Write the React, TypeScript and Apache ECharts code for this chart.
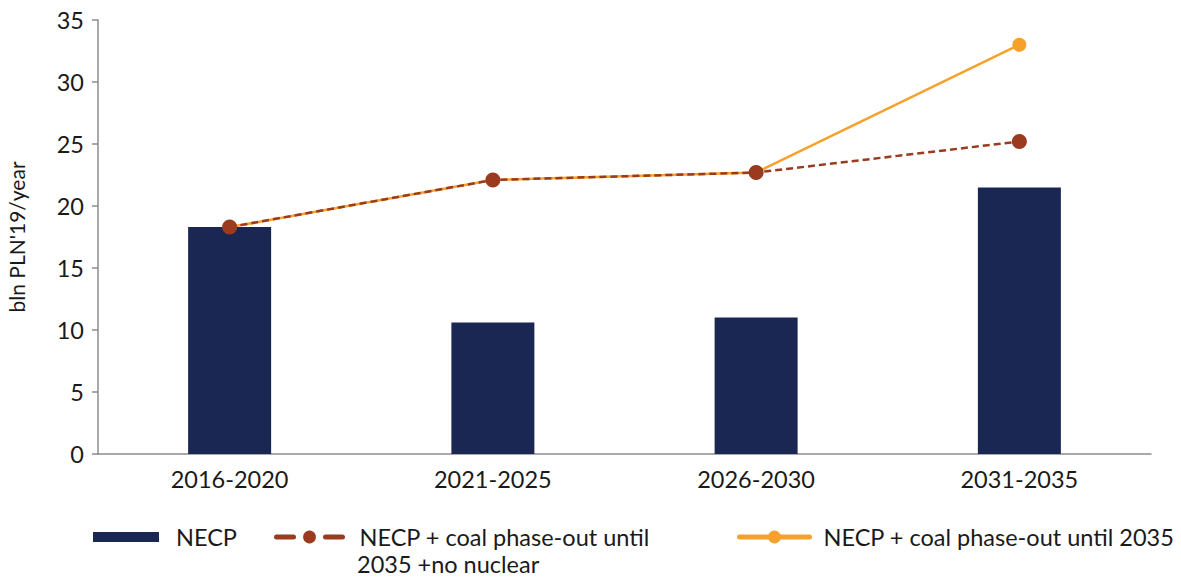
import React, { useEffect, useRef } from "react";
import * as echarts from "echarts";

const categories = ["2016-2020", "2021-2025", "2026-2030", "2031-2035"];
const necp = [18.3, 10.6, 11.0, 21.5];
const coalNoNuclear = [18.3, 22.1, 22.7, 25.2];
const coal2035 = [18.3, 22.1, 22.7, 33.0];
const yTicks = { min: 0, max: 35, interval: 5 };

const NAME_BAR = "NECP";
const NAME_BROWN = "NECP + coal phase-out until 2035 +no nuclear";
const BROWN_LINE1 = "NECP + coal phase-out until";
const BROWN_LINE2 = "2035 +no nuclear";
const NAME_ORANGE = "NECP + coal phase-out until 2035";

const FONT = "Lato, 'Open Sans', sans-serif";
const TXT = "#1a1a1a";
const BROWN = "#9a3a1f";
const ORANGE = "#f7a02a";
const FS = 23.5;

export default function App() {
  const ref = useRef<HTMLDivElement>(null);
  useEffect(() => {
    if (!ref.current) return;
    const chart = echarts.init(ref.current, undefined, { renderer: "svg" });
    const legendText = { fontFamily: FONT, fontSize: FS, color: TXT };
    chart.setOption({
      animation: false,
      textStyle: { fontFamily: FONT },
      grid: { left: 98, right: 30, top: 20, bottom: 126, containLabel: false, outerBoundsMode: "none" },
      legend: [
        {
          data: [NAME_BAR],
          left: 93,
          top: 525,
          padding: 0,
          itemWidth: 66,
          itemHeight: 10,
          icon: "rect",
          textStyle: { ...legendText, padding: [0, 0, 0, 12] },
        },
        {
          data: [NAME_BROWN],
          left: 274,
          top: 525,
          padding: 0,
          itemWidth: 66,
          itemHeight: 16,
          formatter: () => BROWN_LINE1,
          lineStyle: { width: 5, type: [17, 32], cap: "round", color: BROWN },
          textStyle: { ...legendText, padding: [0, 0, 0, 12] },
        },
        {
          data: [NAME_ORANGE],
          left: 737,
          top: 525,
          padding: 0,
          itemWidth: 70,
          itemHeight: 16,
          lineStyle: { width: 5, cap: "round", color: ORANGE },
          textStyle: { ...legendText, padding: [0, 0, 0, 9] },
        },
      ],
      graphic: [
        {
          type: "text",
          left: 357,
          top: 552,
          style: { text: BROWN_LINE2, font: `${FS}px ${FONT}`, fill: TXT },
        },
      ],
      xAxis: {
        type: "category",
        data: categories,
        axisLine: { lineStyle: { color: "#8c8c8c", width: 1.5 } },
        axisTick: { show: false },
        axisLabel: { color: TXT, fontSize: FS, fontFamily: FONT, margin: 13 },
      },
      yAxis: {
        type: "value",
        min: yTicks.min,
        max: yTicks.max,
        interval: yTicks.interval,
        name: "bln PLN'19/year",
        nameLocation: "middle",
        nameGap: 71,
        nameTextStyle: { color: TXT, fontSize: 21, fontFamily: FONT },
        axisLine: { show: true, lineStyle: { color: "#8c8c8c", width: 1.5 } },
        axisTick: { show: true, length: 6, lineStyle: { color: "#8c8c8c", width: 1.5 } },
        axisLabel: { color: TXT, fontSize: FS, fontFamily: FONT, margin: 14 },
        splitLine: { show: false },
      },
      series: [
        {
          name: NAME_BAR,
          type: "bar",
          data: necp,
          barWidth: 83,
          itemStyle: { color: "#1b2753" },
        },
        {
          name: NAME_ORANGE,
          type: "line",
          data: coal2035,
          symbol: "circle",
          symbolSize: 14,
          itemStyle: { color: ORANGE },
          lineStyle: { color: ORANGE, width: 2.5 },
        },
        {
          name: NAME_BROWN,
          type: "line",
          data: coalNoNuclear,
          symbol: "circle",
          symbolSize: 15,
          itemStyle: { color: BROWN },
          lineStyle: { color: BROWN, width: 2.5, type: [7, 4] },
        },
      ],
    });
    return () => chart.dispose();
  }, []);
  return <div ref={ref} style={{ width: 1181, height: 580, position: "absolute", left: 0, top: 0 }} />;
}
